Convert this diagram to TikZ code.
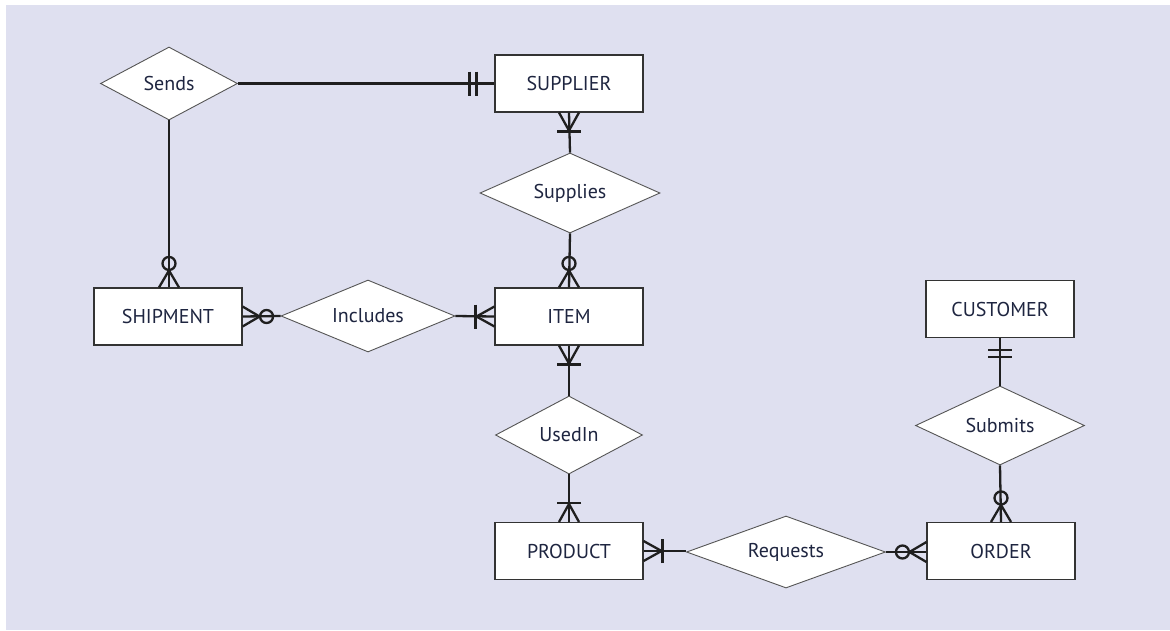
\documentclass[tikz,border=0pt]{standalone}
\usepackage{fontspec}
\setmainfont{PT Sans}
\usetikzlibrary{shapes.geometric}
\definecolor{bgpanel}{HTML}{DFE0F0}
\definecolor{inktext}{HTML}{1E2540}
\definecolor{boxline}{HTML}{333333}
\definecolor{diaLine}{HTML}{555555}
\tikzset{
  x=1pt, y=1pt,
  entity/.style={draw=boxline, line width=1.1pt, fill=white, minimum width=148pt,
    minimum height=57pt, inner sep=0pt, text=inktext, font=\fontsize{20}{24}\selectfont},
  rel/.style={diamond, draw=diaLine, line width=0.9pt, fill=white, aspect=2.2,
    inner sep=0pt, text=inktext, font=\fontsize{20}{24}\selectfont},
  link/.style={line width=2.3pt, draw=black!88},
  % marks are drawn in a frame whose +x axis points away from the entity
  zeromany/.pic={\draw[link] (0,-10) -- (17,0) -- (0,10);
                 \draw[link] (24,0) circle (6.5);},
  onemany/.pic={\draw[link] (0,-10) -- (18,0) -- (0,10);
                \draw[link] (19,-12) -- (19,12);},
  oneone/.pic={\draw[link] (#1,-12) -- (#1,12);
               \draw[link] ({#1+7},-12) -- ({#1+7},12);},
}
\begin{document}
\begin{tikzpicture}
  \useasboundingbox (0,0) rectangle (1170,-630);
  \fill[white] (0,0) rectangle (1170,-630);
  \fill[bgpanel] (6,-5) rectangle (1170,-630);

  % entities
  \node[entity] (supplier) at (569,-83.5) {SUPPLIER};
  \node[entity] (shipment) at (168,-316.5) {SHIPMENT};
  \node[entity] (item)     at (569,-316.5) {ITEM};
  \node[entity] (customer) at (1000,-309) {CUSTOMER};
  \node[entity] (product)  at (569,-551) {PRODUCT};
  \node[entity] (order)    at (1001,-551) {ORDER};

  % relationships
  \node[rel, minimum width=137pt, minimum height=73pt] (sends)    at (169,-83.5) {Sends};
  \node[rel, minimum width=180pt, minimum height=80pt] (supplies) at (570,-193) {Supplies};
  \node[rel, minimum width=174pt, minimum height=72pt] (includes) at (368,-316) {Includes};
  \node[rel, minimum width=147pt, minimum height=78pt] (usedin)   at (569,-435) {UsedIn};
  \node[rel, minimum width=169pt, minimum height=79pt] (submits)  at (1000,-425.5) {Submits};
  \node[rel, minimum width=199pt, minimum height=72pt] (requests) at (786,-552) {Requests};

  % connectors
  \draw[link] (sends.east) -- (sends.east -| supplier.west);
  \draw[link] (sends.south) -- (sends.south |- shipment.north);
  \draw[link] (supplier.south) -- (supplies.north);
  \draw[link] (supplies.south) -- (item.north);
  \draw[link] (item.south) -- (usedin.north);
  \draw[link] (usedin.south) -- (product.north);
  \draw[link] (shipment.east) -- (includes.west);
  \draw[link] (includes.east) -- (item.west);
  \draw[link] (customer.south) -- (submits.north);
  \draw[link] (submits.south) -- (order.north);
  \draw[link] (product.east) -- (product.east -| requests.west);
  \draw[link] (requests.east) -- (requests.east -| order.west);

  % cardinality marks
  \pic[rotate=180] at (sends.east -| supplier.west) {oneone=18};
  \pic[rotate=90]  at (sends.south |- shipment.north) {zeromany};
  \pic[rotate=-90] at (supplier.south) {onemany};
  \pic[rotate=90]  at (item.north) {zeromany};
  \pic[rotate=-90] at (item.south) {onemany};
  \pic[rotate=90]  at (product.north) {onemany};
  \pic[rotate=0]   at (shipment.east) {zeromany};
  \pic[rotate=180] at (item.west) {onemany};
  \pic[rotate=-90] at (customer.south) {oneone=12};
  \pic[rotate=90]  at (order.north) {zeromany};
  \pic[rotate=0]   at (product.east) {onemany};
  \pic[rotate=180] at (requests.east -| order.west) {zeromany};
\end{tikzpicture}
\end{document}
